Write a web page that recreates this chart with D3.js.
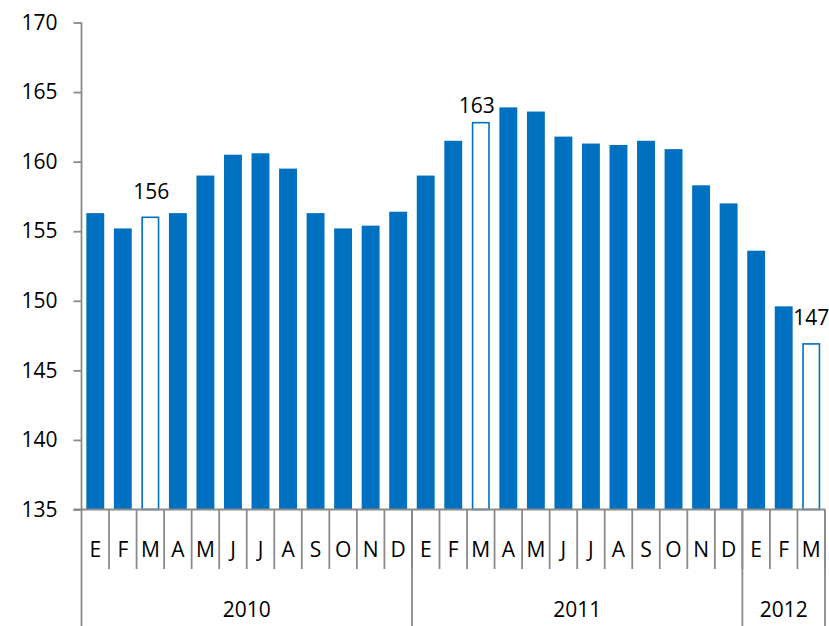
<!DOCTYPE html>
<html>
<head>
<meta charset="utf-8">
<script src="https://cdn.jsdelivr.net/npm/d3@7/dist/d3.min.js"></script>
<style>
  html, body { margin: 0; padding: 0; background: #fff; }
  svg text { font-family: "Open Sans", "Noto Sans", sans-serif; fill: #000; }
</style>
</head>
<body>
<svg id="chart" width="829" height="626"></svg>
<script>
// ---- data ----
const months = ["E","F","M","A","M","J","J","A","S","O","N","D",
                "E","F","M","A","M","J","J","A","S","O","N","D",
                "E","F","M"];
const years = ["2010","2011","2012"];
const yearCounts = [12, 12, 3];
const values = [156.3,155.2,156.0,156.3,159.0,160.5,160.6,159.5,156.3,155.2,155.4,156.4,
                159.0,161.5,162.8,163.9,163.6,161.8,161.3,161.2,161.5,160.9,158.3,157.0,
                153.6,149.6,146.9];
const hollowIndex = [2, 14, 26];
const labelText = ["156", "163", "147"];
const yTicks = [135,140,145,150,155,160,165,170];

(function () {
// ---- layout ----
const W = 829, H = 626;
const pLeft = 81.5, pRight = 825, pTop = 22.5, base = 509.5;
const axisColor = "#8a8a8a";
const barColor = "#0070C0";
const fs = 21;

const svg = d3.select("#chart");

const x = d3.scaleBand()
  .domain(d3.range(values.length))
  .range([pLeft, pRight])
  .paddingInner(0.35)
  .paddingOuter(0.175);

const y = d3.scaleLinear().domain([135, 170]).range([base, pTop]);

// bars
svg.append("g").selectAll("rect")
  .data(values)
  .join("rect")
  .attr("x", (d, i) => hollowIndex.includes(i) ? x(i) + 0.75 : x(i))
  .attr("width", (d, i) => hollowIndex.includes(i) ? x.bandwidth() - 1.5 : x.bandwidth())
  .attr("y", d => y(d))
  .attr("height", d => base - y(d))
  .attr("fill", (d, i) => hollowIndex.includes(i) ? "#fff" : barColor)
  .attr("stroke", (d, i) => hollowIndex.includes(i) ? barColor : "none")
  .attr("stroke-width", 1.6);

// data labels
const labelAdjust = [{dx: 1, dy: -18}, {dx: -4, dy: -10}, {dx: 0, dy: -19}];
svg.append("g").selectAll("text")
  .data(hollowIndex)
  .join("text")
  .attr("x", (d, k) => x(d) + x.bandwidth() / 2 + labelAdjust[k].dx)
  .attr("y", (d, k) => y(values[d]) + labelAdjust[k].dy)
  .attr("text-anchor", "middle")
  .attr("font-size", fs)
  .text((d, k) => labelText[k]);

// y axis
const yAxis = d3.axisLeft(y).tickValues(yTicks).tickSize(8).tickPadding(16).tickFormat(d3.format("d"));
const gy = svg.append("g").attr("transform", `translate(${pLeft},0)`).call(yAxis);
gy.select(".domain").remove();
gy.selectAll(".tick line").attr("stroke", axisColor).attr("stroke-width", 1.8);
gy.selectAll(".tick text").attr("font-size", fs).attr("font-family", "Open Sans").attr("fill", "#000");

// y axis line down to bottom
svg.append("line").attr("x1", pLeft).attr("x2", pLeft).attr("y1", pTop).attr("y2", H)
  .attr("stroke", axisColor).attr("stroke-width", 1.8);

// x axis line
svg.append("line").attr("x1", pLeft - 8).attr("x2", pRight).attr("y1", base).attr("y2", base)
  .attr("stroke", axisColor).attr("stroke-width", 1.8);

// month separators
const step = x.step();
const boundaries = d3.range(values.length + 1).map(i => pLeft + i * step);
svg.append("g").selectAll("line")
  .data(boundaries.slice(1))
  .join("line")
  .attr("x1", d => d).attr("x2", d => d)
  .attr("y1", base).attr("y2", 569)
  .attr("stroke", axisColor).attr("stroke-width", 1.8);

// month labels
svg.append("g").selectAll("text")
  .data(months)
  .join("text")
  .attr("x", (d, i) => x(i) + x.bandwidth() / 2)
  .attr("y", 550)
  .attr("dy", "0.35em")
  .attr("text-anchor", "middle")
  .attr("font-size", fs)
  .text(d => d);

// year groups
let startIdx = 0;
const yearBounds = years.map((yr, k) => {
  const s = startIdx; startIdx += yearCounts[k];
  return {yr, s, e: startIdx};
});
svg.append("g").selectAll("line")
  .data(yearBounds)
  .join("line")
  .attr("x1", d => pLeft + d.e * step).attr("x2", d => pLeft + d.e * step)
  .attr("y1", base).attr("y2", H)
  .attr("stroke", axisColor).attr("stroke-width", 1.8);
svg.append("g").selectAll("text")
  .data(yearBounds)
  .join("text")
  .attr("x", d => pLeft + (d.s + d.e) / 2 * step)
  .attr("y", 610)
  .attr("dy", "0.35em")
  .attr("text-anchor", "middle")
  .attr("font-size", fs)
  .text(d => d.yr);
})();
</script>
</body>
</html>
